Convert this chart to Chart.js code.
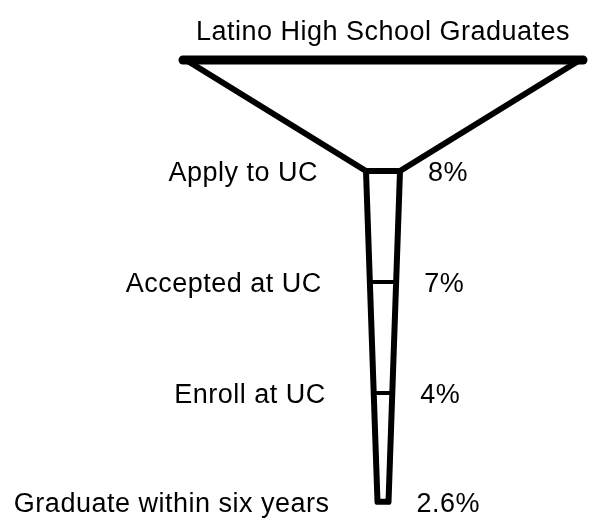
<!DOCTYPE html>
<html>
<head>
<meta charset="utf-8">
<script src="https://cdn.jsdelivr.net/npm/chart.js@4/dist/chart.umd.min.js"></script>
<style>
  body { margin: 0; background: #fff; }
  canvas { display: block; }
</style>
</head>
<body>
<canvas id="chartEmbudo" width="596" height="522"></canvas>
<script>
// datos del embudo
const titulo = 'Latino High School Graduates';
const etapas = ['Apply to UC', 'Accepted at UC', 'Enroll at UC', 'Graduate within six years'];
const porcentajes = [8, 7, 4, 2.6];
const niveles = [1, 2, 3, 3.98]; // nivel (eje y) de cada etapa

// forma del embudo (unidades del eje x)
const anchoBoca = 200;
const anchoTuboArriba = 17;
const anchoTuboAbajo = 5.5;

function medioAncho(nivel) {
    const t = (nivel - niveles[0]) / (niveles[niveles.length - 1] - niveles[0]);
    return anchoTuboArriba + (anchoTuboAbajo - anchoTuboArriba) * t;
}

const fondo = niveles[niveles.length - 1];
const linea = (pts, w) => ({
    data: pts, showLine: true, borderColor: '#000', borderWidth: w,
    pointRadius: 0, borderCapStyle: 'round', borderJoinStyle: 'round',
    tension: 0, clip: false, fill: false
});

const datasets = [
    // borde superior
    linea([{ x: -anchoBoca, y: 0 }, { x: anchoBoca, y: 0 }], 9),
    // cono
    linea([
        { x: -anchoBoca + 3, y: 0 }, { x: -anchoTuboArriba, y: niveles[0] },
        { x: anchoTuboArriba, y: niveles[0] }, { x: anchoBoca - 3, y: 0 }
    ], 6),
    // tubo
    linea([
        { x: -anchoTuboArriba, y: niveles[0] }, { x: -anchoTuboAbajo, y: fondo },
        { x: anchoTuboAbajo, y: fondo }, { x: anchoTuboArriba, y: niveles[0] }
    ], 6)
];
// divisiones internas
niveles.slice(1, -1).forEach(n => {
    datasets.push(linea([{ x: -medioAncho(n), y: n }, { x: medioAncho(n), y: n }], 4));
});

const etiquetas = {
    id: 'etiquetas',
    afterDatasetsDraw(chart) {
        const { ctx, scales: { x, y } } = chart;
        ctx.save();
        ctx.fillStyle = '#000';
        ctx.font = '27px "Liberation Sans", Arial, sans-serif';
        ctx.letterSpacing = '0.5px';
        ctx.textBaseline = 'alphabetic';

        ctx.textAlign = 'center';
        ctx.fillText(titulo, x.getPixelForValue(0), 39.5);

        etapas.forEach((txt, i) => {
            const n = niveles[i];
            const py = y.getPixelForValue(n) + 10;
            const hw = medioAncho(n);
            ctx.textAlign = 'right';
            ctx.fillText(txt, x.getPixelForValue(-hw) - 48, py);
            ctx.textAlign = 'left';
            ctx.fillText(porcentajes[i] + '%', x.getPixelForValue(hw) + 28, py);
        });
        ctx.restore();
    }
};

new Chart(document.getElementById('chartEmbudo'), {
    type: 'scatter',
    data: { datasets },
    options: {
        responsive: false,
        animation: false,
        layout: { padding: { top: 60, bottom: 18, left: 0, right: 0 } },
        plugins: { legend: { display: false }, tooltip: { enabled: false } },
        scales: {
            x: { type: 'linear', min: -383, max: 213, display: false },
            y: { type: 'linear', min: 0, max: 4, reverse: true, display: false }
        }
    },
    plugins: [etiquetas]
});
</script>
</body>
</html>
